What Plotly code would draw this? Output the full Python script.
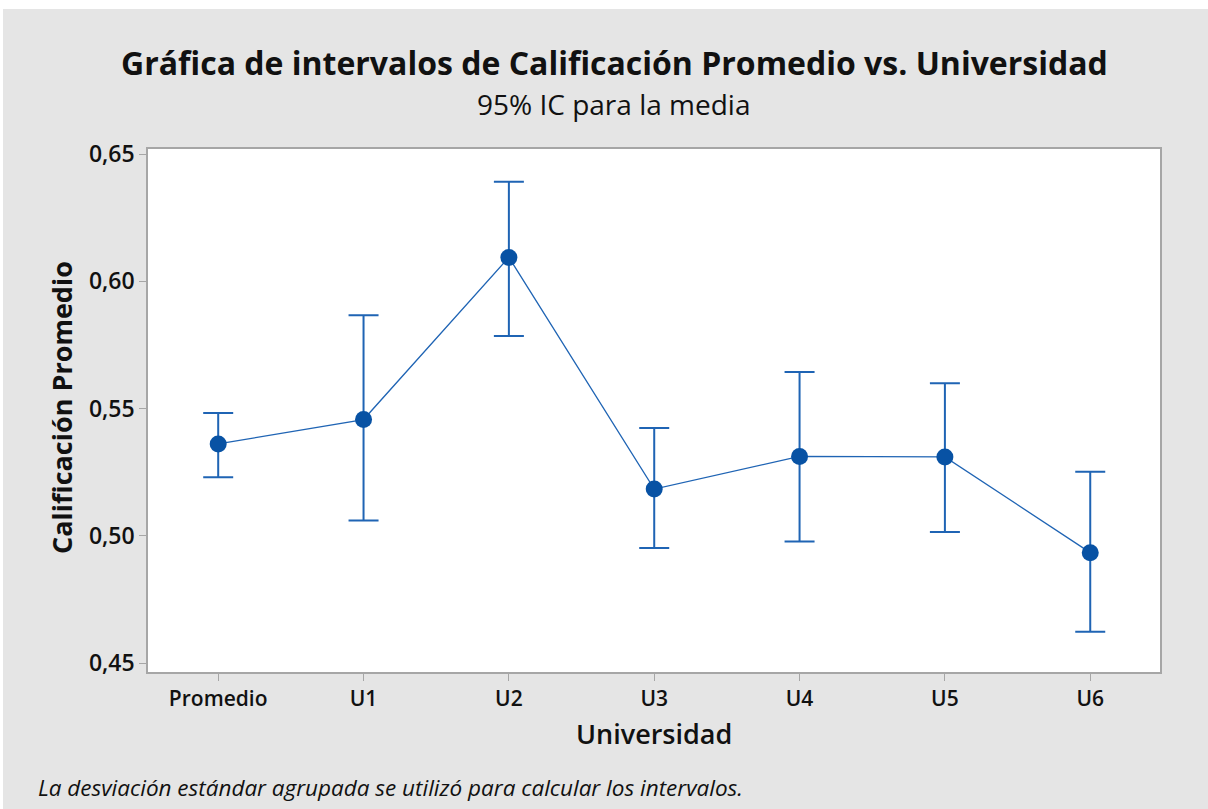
import plotly.graph_objects as go

categorias = ["Promedio", "U1", "U2", "U3", "U4", "U5", "U6"]
medias = [0.5361, 0.5457, 0.6094, 0.5184, 0.5312, 0.5310, 0.4934]
ic_superior = [0.5483, 0.5867, 0.6391, 0.5424, 0.5644, 0.5600, 0.5252]
ic_inferior = [0.5230, 0.5060, 0.5785, 0.4952, 0.4978, 0.5015, 0.4623]

err_plus = [s - m for s, m in zip(ic_superior, medias)]
err_minus = [m - i for m, i in zip(medias, ic_inferior)]

W, H = 1208, 809
L, R, T, B = 148, 48, 149, 137
pw, ph = W - L - R, H - T - B

def px_x(x):
    return (x - L) / pw

def px_y(y):
    return 1 - (y - T) / ph

FONT = "Open Sans"
BLUE = "#1f64b4"
DOT = "#0852a4"
GRID = "#a6a6a6"
TXT = "#111111"

fig = go.Figure()
fig.add_trace(go.Scatter(
    x=list(range(len(categorias))),
    y=medias,
    mode="lines+markers",
    line=dict(color=BLUE, width=1.3),
    marker=dict(color=DOT, size=17, symbol="circle"),
    error_y=dict(type="data", symmetric=False, array=err_plus, arrayminus=err_minus,
                 color=BLUE, thickness=2, width=15),
    showlegend=False,
    hoverinfo="skip",
))

fig.update_layout(
    width=W, height=H,
    margin=dict(l=L, r=R, t=T, b=B, autoexpand=False),
    paper_bgcolor="#e5e5e5",
    plot_bgcolor="white",
    separators=",.",
    font=dict(family=FONT, color=TXT),
    xaxis=dict(
        tickmode="array", tickvals=list(range(len(categorias))), ticktext=categorias,
        range=[-0.483, 6.48], showgrid=False, zeroline=False,
        ticks="outside", ticklen=7, tickcolor=GRID, tickwidth=1,
        showline=True, linecolor=GRID, linewidth=1.5, mirror=True,
        tickfont=dict(family=FONT, size=21, color=TXT, weight=600),
    ),
    yaxis=dict(
        range=[0.4465, 0.652], tickvals=[0.45, 0.50, 0.55, 0.60, 0.65], tickformat=".2f",
        showgrid=False, zeroline=False,
        ticks="outside", ticklen=7, tickcolor=GRID, tickwidth=1,
        showline=True, linecolor=GRID, linewidth=1.5, mirror=True,
        tickfont=dict(family=FONT, size=23, color=TXT, weight=600),
    ),
    annotations=[
        dict(text="Gráfica de intervalos de Calificación Promedio vs. Universidad",
             x=px_x(614), y=px_y(63), xref="paper", yref="paper", showarrow=False,
             xanchor="center", yanchor="middle",
             font=dict(family=FONT, size=32, color=TXT, weight=700)),
        dict(text="95% IC para la media",
             x=px_x(613), y=px_y(104), xref="paper", yref="paper", showarrow=False,
             xanchor="center", yanchor="middle",
             font=dict(family=FONT, size=28, color=TXT)),
        dict(text="Universidad",
             x=px_x(654), y=px_y(733), xref="paper", yref="paper", showarrow=False,
             xanchor="center", yanchor="middle",
             font=dict(family=FONT, size=27, color=TXT, weight=600)),
        dict(text="Calificación Promedio",
             x=px_x(61), y=px_y(408), xref="paper", yref="paper", showarrow=False,
             xanchor="center", yanchor="middle", textangle=-90,
             font=dict(family=FONT, size=27, color=TXT, weight=700)),
        dict(text="<i>La desviación estándar agrupada se utilizó para calcular los intervalos.</i>",
             x=px_x(36), y=px_y(787), xref="paper", yref="paper", showarrow=False,
             xanchor="left", yanchor="middle",
             font=dict(family=FONT, size=22.5, color=TXT)),
    ],
    shapes=[
        dict(type="rect", xref="paper", yref="paper", layer="above",
             x0=px_x(0), x1=px_x(W), y0=px_y(9), y1=px_y(0),
             fillcolor="white", line=dict(width=0)),
        dict(type="rect", xref="paper", yref="paper", layer="above",
             x0=px_x(0), x1=px_x(3), y0=px_y(H), y1=px_y(0),
             fillcolor="white", line=dict(width=0)),
    ],
)

fig.write_html("out.html", config={"displayModeBar": False},
               post_script="document.body.style.margin='0px';document.body.style.overflow='hidden';")
